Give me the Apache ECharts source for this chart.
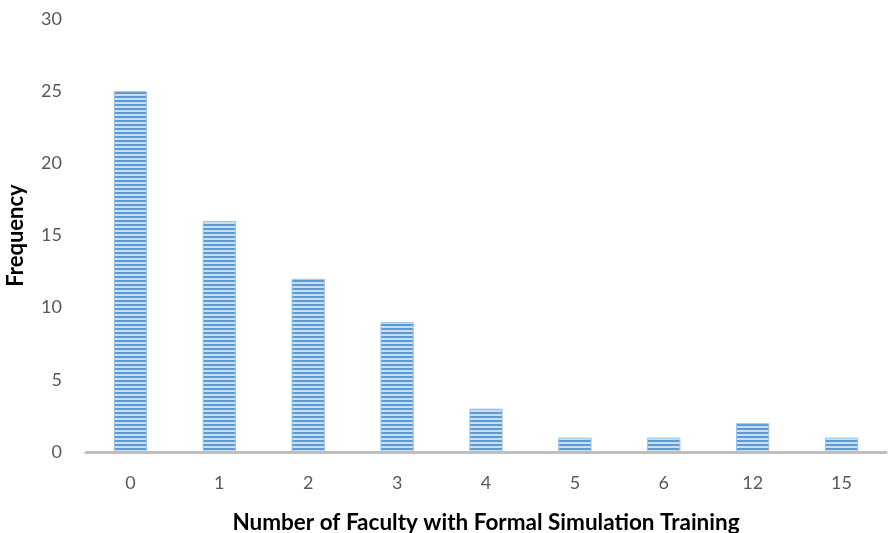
<!DOCTYPE html>
<html>
<head>
<meta charset="utf-8">
<script src="https://cdn.jsdelivr.net/npm/echarts@6/dist/echarts.min.js"></script>
<style>
  html, body { margin: 0; padding: 0; background: #fff; }
  #chart { width: 888px; height: 533px; }
</style>
</head>
<body>
<div id="chart"></div>
<script>
const categories = ['0', '1', '2', '3', '4', '5', '6', '12', '15'];
const frequency = [25, 16, 12, 9, 3, 1, 1, 2, 1];
const yTicks = { min: 0, max: 30, interval: 5 };

// Horizontal stripe fill for the bars
function stripePattern() {
  const c = document.createElement('canvas');
  c.width = 8; c.height = 4;
  const g = c.getContext('2d');
  g.fillStyle = '#c9def2';
  g.fillRect(0, 0, 8, 4);
  g.fillStyle = '#5b9bd5';
  g.fillRect(0, 0, 8, 2);
  return c;
}

const chart = echarts.init(document.getElementById('chart'), null, { renderer: 'canvas' });
chart.setOption({
  animation: false,
  textStyle: { fontFamily: 'Lato, Open Sans, sans-serif' },
  grid: { left: 86, right: 2, top: 19, bottom: 81, containLabel: false, outerBoundsMode: 'none' },
  xAxis: {
    type: 'category',
    data: categories,
    axisLine: { lineStyle: { color: '#bfbfbf', width: 3 } },
    axisTick: { show: false },
    axisLabel: { color: '#595959', fontSize: 18, margin: 22 },
    name: 'Number of Faculty with Formal Simulation Training',
    nameLocation: 'middle',
    nameGap: 59,
    nameTextStyle: { color: '#000', fontSize: 22.5, fontWeight: 'bold' }
  },
  yAxis: {
    type: 'value',
    min: yTicks.min, max: yTicks.max, interval: yTicks.interval,
    axisLine: { show: false },
    axisTick: { show: false },
    splitLine: { show: false },
    axisLabel: { color: '#595959', fontSize: 18, margin: 24 },
    name: 'Frequency',
    nameLocation: 'middle',
    nameGap: 59,
    nameRotate: 90,
    nameTextStyle: { color: '#000', fontSize: 22, fontWeight: 'bold' }
  },
  series: [{
    type: 'bar',
    data: frequency,
    barWidth: '37.5%',
    itemStyle: {
      color: { image: stripePattern(), repeat: 'repeat' },
      borderColor: '#9dc3e6',
      borderWidth: 1
    }
  }]
});
</script>
</body>
</html>
